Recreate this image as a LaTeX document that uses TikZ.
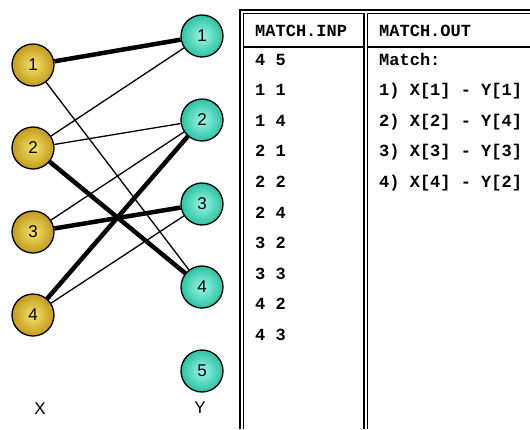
\documentclass[tikz,border=0pt]{standalone}
\usepackage{fontspec}
\setmainfont{Liberation Sans}
\newfontfamily\codefont{Liberation Mono}
\definecolor{goldin}{HTML}{F4E46A}
\definecolor{goldout}{HTML}{C29A1E}
\definecolor{tealin}{HTML}{9AF7E6}
\definecolor{tealout}{HTML}{2CC2A2}
\tikzset{
  xnode/.style={circle, draw=black, line width=1.3pt, minimum size=42pt, inner sep=0pt,
    inner color=goldin, outer color=goldout, font=\fontsize{17}{17}\selectfont},
  ynode/.style={circle, draw=black, line width=1.3pt, minimum size=42pt, inner sep=0pt,
    inner color=tealin, outer color=tealout, font=\fontsize{17}{17}\selectfont},
  thinedge/.style={line width=1.3pt},
  thickedge/.style={line width=4.5pt},
  dline/.style={line width=1.2pt},
  code/.style={anchor=base west, inner sep=0pt, font=\codefont\bfseries\fontsize{17}{17}\selectfont},
  axislabel/.style={inner sep=0pt, font=\fontsize{17}{17}\selectfont}
}
\begin{document}
\begin{tikzpicture}[x=1pt,y=-1pt]
\useasboundingbox (0,0) rectangle (530,429);
\node[xnode] (x1) at (33,65) {1};
\node[xnode] (x2) at (33,148) {2};
\node[xnode] (x3) at (33,232) {3};
\node[xnode] (x4) at (33,315) {4};
\node[ynode] (y1) at (202,36) {1};
\node[ynode] (y2) at (202,120) {2};
\node[ynode] (y3) at (202,204) {3};
\node[ynode] (y4) at (202,287) {4};
\node[ynode] (y5) at (202,371) {5};
\draw[thickedge] (x1) -- (y1);
\draw[thinedge] (x1) -- (y4);
\draw[thinedge] (x2) -- (y1);
\draw[thinedge] (x2) -- (y2);
\draw[thickedge] (x2) -- (y4);
\draw[thinedge] (x3) -- (y2);
\draw[thickedge] (x3) -- (y3);
\draw[thickedge] (x4) -- (y2);
\draw[thinedge] (x4) -- (y3);
\node[axislabel] (lx) at (40,409) {X};
\node[axislabel] (ly) at (200,408) {Y};
% table frame
\draw[dline] (240,429) -- (240,10) -- (530,10);
\draw[dline] (243.5,429) -- (243.5,13.5) -- (364,13.5) -- (364,429);
\draw[dline] (367.5,429) -- (367.5,13.5) -- (530,13.5);
\draw[dline] (243.5,47) -- (364,47);
\draw[dline] (367.5,47) -- (530,47);
% table text
\node[code] (hin) at (255,36) {MATCH.INP};
\node[code] (hout) at (379,36) {MATCH.OUT};
\foreach \t [count=\i from 0] in {4 5,1 1,1 4,2 1,2 2,2 4,3 2,3 3,4 2,4 3}{
  \node[code] (in\i) at (255,65+30.6*\i) {\t};
}
\node[code] (out0) at (379,65) {Match:};
\node[code] (out1) at (379,65+30.6) {1) X[1] - Y[1]};
\node[code] (out2) at (379,65+61.2) {2) X[2] - Y[4]};
\node[code] (out3) at (379,65+91.8) {3) X[3] - Y[3]};
\node[code] (out4) at (379,65+122.4) {4) X[4] - Y[2]};
\end{tikzpicture}
\end{document}
